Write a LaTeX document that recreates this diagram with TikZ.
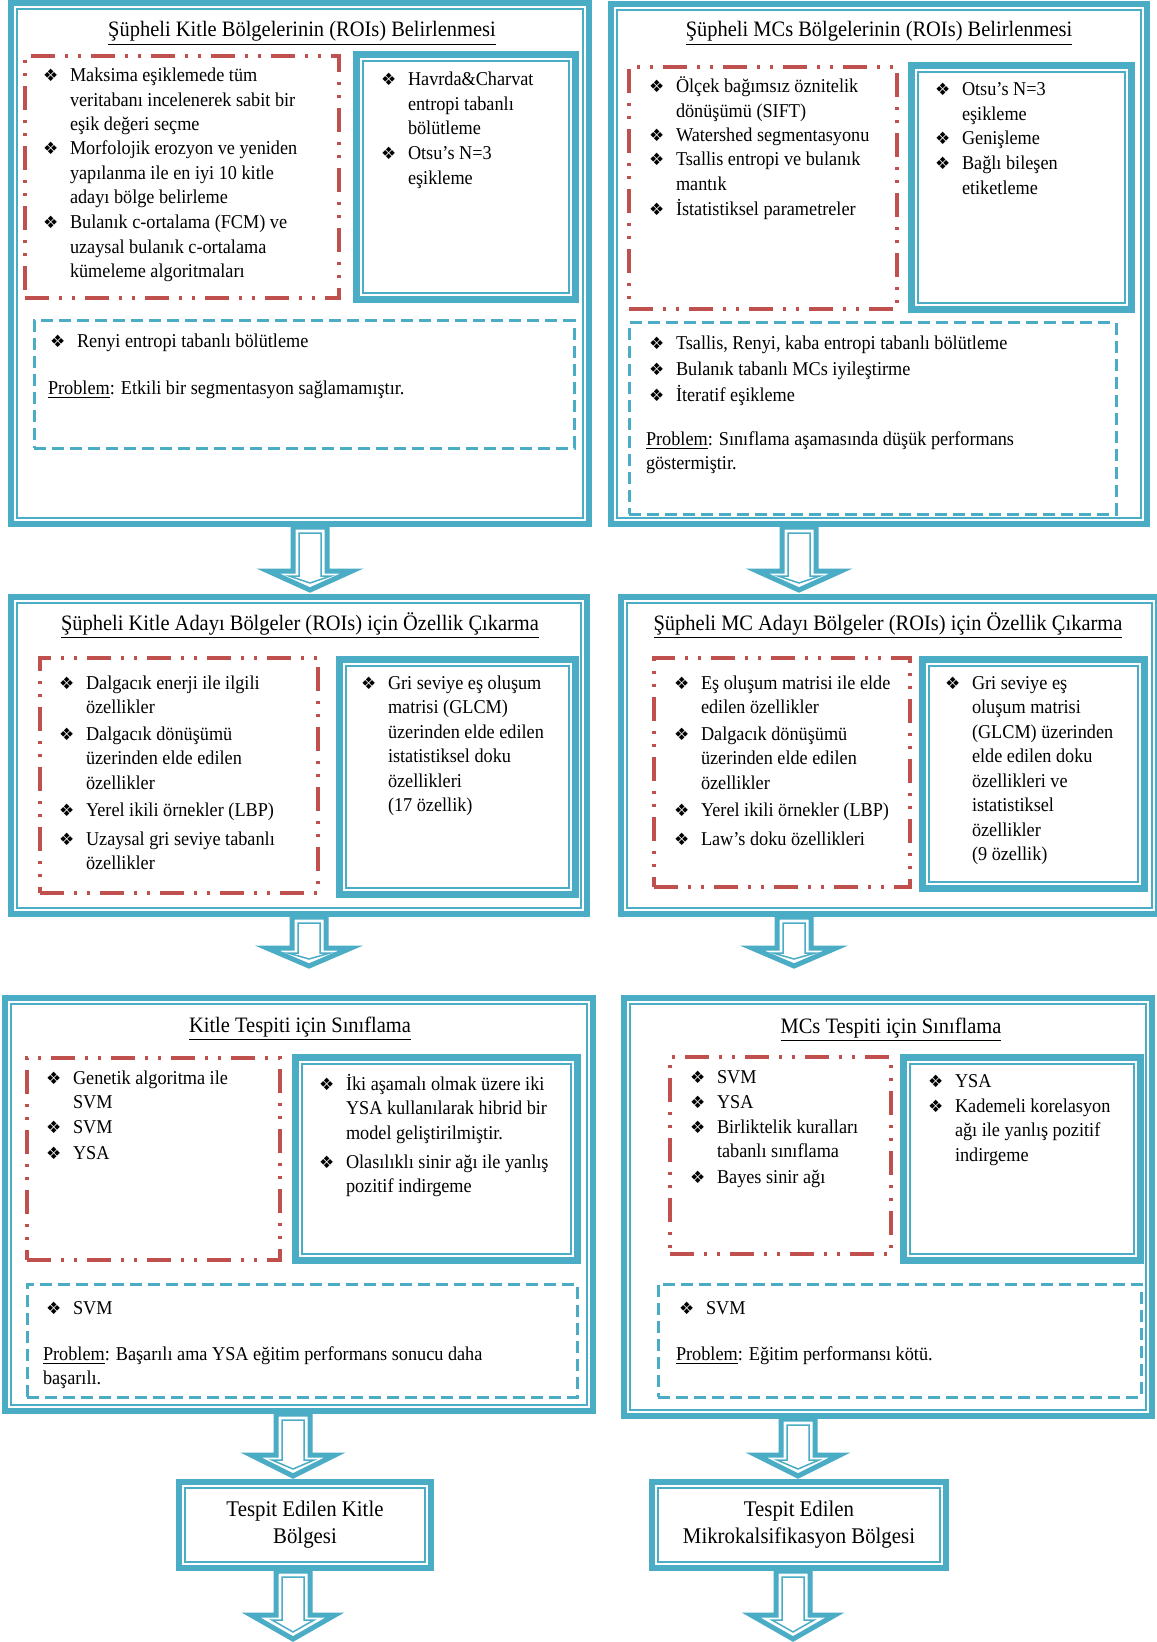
\documentclass[tikz,border=0pt]{standalone}
\usepackage{fontspec}
\setmainfont{Liberation Serif}[FakeStretch=0.93]
\newfontfamily\bulfont{DejaVu Sans}
\definecolor{aqua}{HTML}{4BACC6}
\definecolor{dred}{HTML}{C0504D}
\newcommand{\bodyfont}{\fontsize{9.8}{12.25}\selectfont}
\newcommand{\titlefont}{\fontsize{11}{13}\selectfont}
\newcommand{\resfont}{\fontsize{11.2}{13.5}\selectfont}
\newcommand{\strutx}{\rule{0pt}{9.5pt}}
\newcommand{\bul}{\llap{\makebox[13.5pt][l]{\bulfont\fontsize{8.5}{8.5}\selectfont ❖}}}
\tikzset{
 bigline/.style={draw=aqua, line width=3pt},
 bigthin/.style={draw=aqua, line width=0.85pt},
 solidline/.style={draw=aqua, line width=3.5pt},
 solidthin/.style={draw=aqua, line width=1pt},
 reddash/.style={draw=dred, line width=1.6pt, dash pattern=on 12pt off 5pt on 1.5pt off 5pt on 1.5pt off 5pt},
 bluedash/.style={draw=aqua, line width=1.5pt, dash pattern=on 6pt off 3pt},
 itemtext/.style={anchor=north west, inner sep=0pt, outer sep=0pt, align=left, font=\bodyfont},
 titletext/.style={anchor=base, inner sep=0pt, font=\titlefont},
 restext/.style={inner sep=0pt, align=center, font=\resfont},
 arrowthick/.style={draw=aqua, fill=white, line width=2.5pt, line join=miter},
 arrowthin/.style={draw=aqua, line width=0.75pt},
}
\newcommand{\rbox}[6]{\node[#6, inner sep=0pt, outer sep=0pt, anchor=north west, minimum width={(#4-#2)*0.5pt}, minimum height={(#5-#3)*0.5pt}] (#1) at (#2,#3) {};}
\newcommand{\bigbox}[5]{\rbox{#1}{#2}{#3}{#4}{#5}{bigline}\draw[bigthin] ([shift={(5.85,5.85)}]#1.north west) rectangle ([shift={(-5.85,-5.85)}]#1.south east);}
\newcommand{\solbox}[5]{\rbox{#1}{#2}{#3}{#4}{#5}{solidline}\draw[solidthin] ([shift={(6.5,6.5)}]#1.north west) rectangle ([shift={(-6.5,-6.5)}]#1.south east);}
\newcommand{\itm}[4]{\node[itemtext] (#1) at (#2,#3-12) {\strutx\bul #4};}
\newcommand{\ptxt}[4]{\node[itemtext] (#1) at (#2,#3-12) {\strutx #4};}
\newcommand{\barrow}[5]{%
 \coordinate (#1s) at (#2,#3); \coordinate (#1e) at (#2,#5);
 \draw[arrowthick] (#2-17,#3) -- (#2-17,#4) -- (#2-42,#4) -- (#2,#5) -- (#2+42,#4) -- (#2+17,#4) -- (#2+17,#3) -- cycle;
 \draw[arrowthin] (#2-11,#3+6) -- (#2-11,#4+5) -- (#2-21,#4+5) -- (#2,#5-7) -- (#2+21,#4+5) -- (#2+11,#4+5) -- (#2+11,#3+6) -- cycle;}
\begin{document}
\begin{tikzpicture}[x=0.5pt, y=-0.5pt]
\fill[white] (0,0) rectangle (1156,1642);
\useasboundingbox (0,0) rectangle (1156,1642);
% arrows (drawn first, under the boxes)
\barrow{a1}{310}{527}{571}{590}
\barrow{a2}{799}{527}{571}{590}
\barrow{a3}{309}{917}{948}{966}
\barrow{a4}{794}{917}{948}{966}
\barrow{a5}{293}{1414}{1455}{1476}
\barrow{a6}{798}{1419}{1455}{1476}
\barrow{a7}{293}{1571}{1615}{1639}
\barrow{a8}{793}{1571}{1615}{1639}
% big boxes
\bigbox{b1}{11}{3}{589}{524}
\bigbox{b2}{611}{4}{1147}{524}
\bigbox{b3}{11}{597}{587}{914}
\bigbox{b4}{621}{597}{1158}{914}
\bigbox{b5}{5}{998}{593}{1411}
\bigbox{b6}{624}{998}{1152}{1416}
\bigbox{b7}{179}{1482}{431}{1568}
\bigbox{b8}{652}{1482}{946}{1568}
% red dash-dot-dot boxes
\rbox{r1}{25}{56}{339}{298}{reddash}
\rbox{r2}{629}{67}{897}{309}{reddash}
\rbox{r3}{40}{658}{318}{893}{reddash}
\rbox{r4}{654}{658}{910}{887}{reddash}
\rbox{r5}{27}{1058}{280}{1260}{reddash}
\rbox{r6}{670}{1057}{891}{1254}{reddash}
% solid double boxes
\solbox{s1}{356}{55}{575}{300}
\solbox{s2}{911}{66}{1131}{310}
\solbox{s3}{339}{659}{575}{894}
\solbox{s4}{922}{659}{1144}{888}
\solbox{s5}{295}{1057}{577}{1260}
\solbox{s6}{903}{1057}{1140}{1260}
% dashed boxes
\rbox{d1}{34}{321}{574}{448}{bluedash}
\rbox{d2}{629}{323}{1116}{514}{bluedash}
\rbox{d5}{27}{1284}{577}{1397}{bluedash}
\rbox{d6}{658}{1284}{1141}{1397}{bluedash}
% titles
\node[titletext] (t1) at (302,37) {\underline{Şüpheli Kitle Bölgelerinin (ROIs) Belirlenmesi}};
\node[titletext] (t2) at (879,37) {\underline{Şüpheli MCs Bölgelerinin (ROIs) Belirlenmesi}};
\node[titletext] (t3) at (300,630) {\underline{Şüpheli Kitle Adayı Bölgeler (ROIs) için Özellik Çıkarma}};
\node[titletext] (t4) at (888,630) {\underline{Şüpheli MC Adayı Bölgeler (ROIs) için Özellik Çıkarma}};
\node[titletext] (t5) at (300,1032) {\underline{Kitle Tespiti için Sınıflama}};
\node[titletext] (t6) at (891,1033) {\underline{MCs Tespiti için Sınıflama}};
% box 1
\itm{i1a}{70}{75}{Maksima eşiklemede tüm\\veritabanı incelenerek sabit bir\\eşik değeri seçme}
\itm{i1b}{70}{148}{Morfolojik erozyon ve yeniden\\yapılanma ile en iyi 10 kitle\\adayı bölge belirleme}
\itm{i1c}{70}{222}{Bulanık c-ortalama (FCM) ve\\uzaysal bulanık c-ortalama\\kümeleme algoritmaları}
\itm{i1d}{408}{79}{Havrda\&Charvat\\entropi tabanlı\\bölütleme}
\itm{i1e}{408}{153}{Otsu’s N=3\\eşikleme}
\itm{i1f}{77}{341}{Renyi entropi tabanlı bölütleme}
\ptxt{p1}{48}{387}{\underline{Problem}: Etkili bir segmentasyon sağlamamıştır.}
% box 2
\itm{i2a}{676}{86}{Ölçek bağımsız öznitelik\\dönüşümü (SIFT)}
\itm{i2b}{676}{135}{Watershed segmentasyonu}
\itm{i2c}{676}{159}{Tsallis entropi ve bulanık\\mantık}
\itm{i2d}{676}{209}{İstatistiksel parametreler}
\itm{i2e}{962}{89}{Otsu’s N=3\\eşikleme}
\itm{i2f}{962}{138}{Genişleme}
\itm{i2g}{962}{163}{Bağlı bileşen\\etiketleme}
\itm{i2h}{676}{343}{Tsallis, Renyi, kaba entropi tabanlı bölütleme}
\itm{i2i}{676}{369}{Bulanık tabanlı MCs iyileştirme}
\itm{i2j}{676}{394}{İteratif eşikleme}
\ptxt{p2}{646}{438}{\underline{Problem}: Sınıflama aşamasında düşük performans\\göstermiştir.}
% box 3
\itm{i3a}{86}{682}{Dalgacık enerji ile ilgili\\özellikler}
\itm{i3b}{86}{733}{Dalgacık dönüşümü\\üzerinden elde edilen\\özellikler}
\itm{i3c}{86}{809}{Yerel ikili örnekler (LBP)}
\itm{i3d}{86}{838}{Uzaysal gri seviye tabanlı\\özellikler}
\itm{i3e}{388}{682}{Gri seviye eş oluşum\\matrisi (GLCM)\\üzerinden elde edilen\\istatistiksel doku\\özellikleri\\(17 özellik)}
% box 4
\itm{i4a}{701}{682}{Eş oluşum matrisi ile elde\\edilen özellikler}
\itm{i4b}{701}{733}{Dalgacık dönüşümü\\üzerinden elde edilen\\özellikler}
\itm{i4c}{701}{809}{Yerel ikili örnekler (LBP)}
\itm{i4d}{701}{838}{Law’s doku özellikleri}
\itm{i4e}{972}{682}{Gri seviye eş\\oluşum matrisi\\(GLCM) üzerinden\\elde edilen doku\\özellikleri ve\\istatistiksel\\özellikler\\(9 özellik)}
% box 5
\itm{i5a}{73}{1077}{Genetik algoritma ile\\SVM}
\itm{i5b}{73}{1126}{SVM}
\itm{i5c}{73}{1152}{YSA}
\itm{i5d}{346}{1083}{İki aşamalı olmak üzere iki\\YSA kullanılarak hibrid bir\\model geliştirilmiştir.}
\itm{i5e}{346}{1161}{Olasılıklı sinir ağı ile yanlış\\pozitif indirgeme}
\itm{i5f}{73}{1307}{SVM}
\ptxt{p5}{43}{1353}{\underline{Problem}: Başarılı ama YSA eğitim performans sonucu daha\\başarılı.}
% box 6
\itm{i6a}{717}{1076}{SVM}
\itm{i6b}{717}{1101}{YSA}
\itm{i6c}{717}{1126}{Birliktelik kuralları\\tabanlı sınıflama}
\itm{i6d}{717}{1176}{Bayes sinir ağı}
\itm{i6e}{955}{1080}{YSA}
\itm{i6f}{955}{1105}{Kademeli korelasyon\\ağı ile yanlış pozitif\\indirgeme}
\itm{i6g}{706}{1307}{SVM}
\ptxt{p6}{676}{1353}{\underline{Problem}: Eğitim performansı kötü.}
% result boxes text
\node[restext] (e7) at (b7.center) {Tespit Edilen Kitle\\Bölgesi};
\node[restext] (e8) at (b8.center) {Tespit Edilen\\Mikrokalsifikasyon Bölgesi};
\end{tikzpicture}
\end{document}
